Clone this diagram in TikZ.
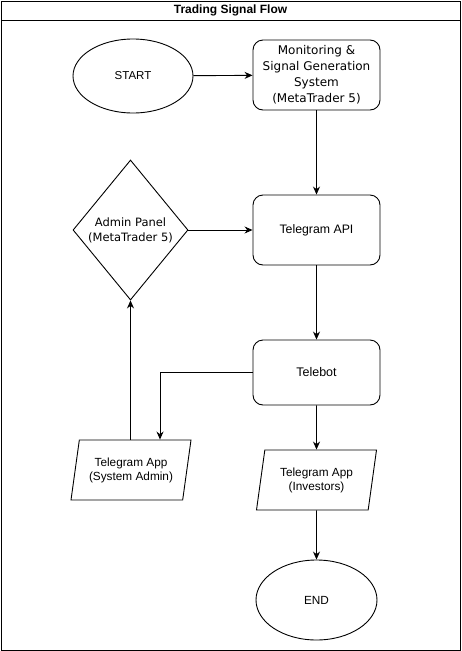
\documentclass[tikz,border=0pt]{standalone}
\usepackage{fontspec}
\setmainfont{Liberation Sans}
\newfontfamily\dejavu{DejaVu Sans}
\usetikzlibrary{shapes.geometric,arrows.meta}
\begin{document}
\begin{tikzpicture}[x=1pt,y=-1pt,line width=0.9pt,
    font=\fontsize{11.8}{14}\selectfont,
    startend/.style={draw,ellipse,minimum width=120pt,minimum height=76pt,inner sep=0pt},
    procbox/.style={draw,rounded corners=10pt,minimum width=127pt,minimum height=70pt,align=center,inner sep=0pt},
    decision/.style={draw,diamond,minimum width=115pt,minimum height=140pt,inner sep=0pt,align=center},
    iobox/.style={draw,trapezium,trapezium left angle=71.57,trapezium right angle=108.43,
      trapezium stretches body,minimum width=120pt,minimum height=60pt,inner sep=0pt,align=center},
    flow/.style={-{Stealth[length=8pt,width=7pt]}}]
  \useasboundingbox (0,0) rectangle (461,651);
  \draw (1,1) rectangle (460,650);
  \draw (1,20) -- (460,20);
  \draw
    (230.5,10.5) node[font=\bfseries\fontsize{12}{14}\selectfont] (title) {Trading Signal Flow}
    (133,76) node[startend,minimum height=74pt,font=\fontsize{11.5}{14}\selectfont] (start) {START}
    (316.5,75) node[procbox,font=\dejavu\fontsize{12}{16}\selectfont] (monitor) {Monitoring \&\\Signal Generation\\System\\(MetaTrader 5)}
    (130.5,230) node[decision,font=\dejavu\fontsize{11.5}{15}\selectfont] (panel) {Admin Panel\\(MetaTrader 5)}
    (316.5,230) node[procbox,font=\fontsize{12.3}{14}\selectfont] (tgapi) {Telegram API}
    (316.5,372.5) node[procbox,minimum height=65pt,font=\fontsize{12.5}{15}\selectfont] (telebot) {Telebot}
    (131,470) node[iobox] (adminapp) {Telegram App\\(System Admin)}
    (316.5,480) node[iobox] (investapp) {Telegram App\\(Investors)}
    (316.5,600) node[startend,minimum width=121pt,minimum height=80pt] (finish) {END};
  \begin{scope}[flow]
    \draw (start) to (monitor);
    \draw (monitor) to (tgapi);
    \draw (panel) to (tgapi);
    \draw (tgapi) to (telebot);
    \draw (telebot.west) -| ([xshift=29pt]adminapp.north);
    \draw (adminapp.north -| panel.south) to (panel.south);
    \draw (telebot) to (investapp);
    \draw (investapp) to (finish);
  \end{scope}
\end{tikzpicture}
\end{document}
